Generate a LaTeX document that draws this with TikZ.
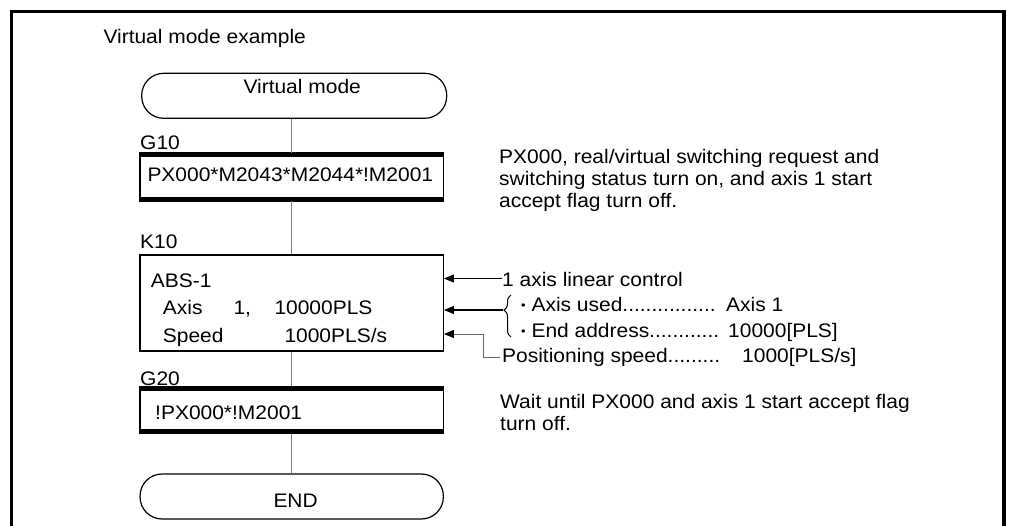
\documentclass[tikz,border=0pt]{standalone}
\usepackage{fontspec}
\setmainfont{Liberation Sans}[FakeStretch=1.07]
\usetikzlibrary{arrows.meta,decorations.pathreplacing}
\newcommand{\dotbul}{{\fontsize{12}{12}\selectfont\raisebox{1.5pt}{•}}}

\begin{document}
\begin{tikzpicture}[x=1pt, y=-1pt, font=\fontsize{19.6}{22}\selectfont,
    every node/.style={inner sep=0pt},
    txt/.style={anchor=base west},
    term/.style={draw, line width=1.2pt, rounded corners=22pt, minimum height=45pt},
    stepbox/.style={draw, line width=1.2pt, minimum width=303.3pt},
    flow/.style={draw=black!50, line width=1pt},
    arr/.style={-{Triangle[length=10pt,width=8pt]}, line width=1.2pt},
    arrg/.style={-{Triangle[length=10pt,width=8pt,color=black]}, draw=black!60, line width=1pt}]
    \useasboundingbox (0,0) rectangle (1009,525);
    \draw[line width=3.5pt] (11.3,530) -- (11.3,11.3) -- (1004,11.3) -- (1004,530);
    \node[txt] (title) at (103.3,43.3) {Virtual mode example};
    % flow chart
    \node[term, minimum width=305pt] (start) at (294.2,95.8) {};
    \node[txt] (startlbl) at (243.3,93.3) {Virtual mode};
    \node[stepbox, minimum height=47.4pt] (g10) at (291.7,177) {};
    \node[stepbox, minimum height=96pt] (k10) at (291.7,303) {};
    \node[stepbox, minimum height=46pt] (g20) at (291.7,410) {};
    \node[term, minimum width=303.3pt] (finish) at (291.7,496.5) {};
    \node[txt] (finishlbl) at (273.3,507) {END};
    \foreach \n in {g10,g20} {
        \fill ([yshift=0.6pt]\n.north west) rectangle ([yshift=-4.4pt]\n.north east);
        \fill ([yshift=-0.6pt]\n.south west) rectangle ([yshift=4.4pt]\n.south east);
    }
    \draw[flow] (g10.north |- start.south) -- (g10.north);
    \draw[flow] (g10.south) -- (k10.north);
    \draw[flow] (k10.south) -- (g20.north);
    \draw[flow] (g20.south) -- (finish.north);
    \node[txt] (g10lbl) at (140,149) {G10};
    \node[txt] (k10lbl) at (140,248) {K10};
    \node[txt] (g20lbl) at (140,385) {G20};
    \node[txt] (g10txt) at (147.3,181.7) {PX000*M2043*M2044*!M2001};
    \node[txt] (abs) at (150.7,287) {ABS-1};
    \node[txt] (axis) at (162.7,314) {Axis};
    \node[txt] (axisno) at (233.3,314) {1,};
    \node[txt] (addr) at (274.3,314) {10000PLS};
    \node[txt] (spd) at (162.7,342) {Speed};
    \node[txt] (spdval) at (284.3,342) {1000PLS/s};
    \node[txt] (g20txt) at (155,419) {!PX000*!M2001};
    % notes
    \node[txt, align=left] (note1) at (499,207.6) {PX000, real/virtual switching request and\\switching status turn on, and axis 1 start\\accept flag turn off.};
    \node[txt] (lin) at (502,286) {1 axis linear control};
    \node[txt] (used) at (521,311) {\dotbul\ Axis used................};
    \node[txt] (usedval) at (726,311) {Axis 1};
    \node[txt] (end) at (521,337) {\dotbul\ End address............};
    \node[txt] (endval) at (728,337) {10000[PLS]};
    \node[txt] (pos) at (502,362) {Positioning speed.........};
    \node[txt] (posval) at (742,362) {1000[PLS/s]};
    \node[txt, align=left] (note2) at (500,430.5) {Wait until PX000 and axis 1 start accept flag\\turn off.};
    \draw[line width=1pt, decorate, decoration={brace, amplitude=7pt, aspect=0.64}] (511,337) -- (511,295);
    \coordinate (a1) at (502,278.5);
    \coordinate (a2) at (503,310);
    \coordinate (a3) at (500,357);
    \coordinate (b3) at (483,334);
    \draw[arr] (a1) -- (a1 -| k10.east);
    \draw[arr] (a2) -- (a2 -| k10.east);
    \draw[arrg] (a3) -| (b3) -- (b3 -| k10.east);
\end{tikzpicture}
\end{document}
